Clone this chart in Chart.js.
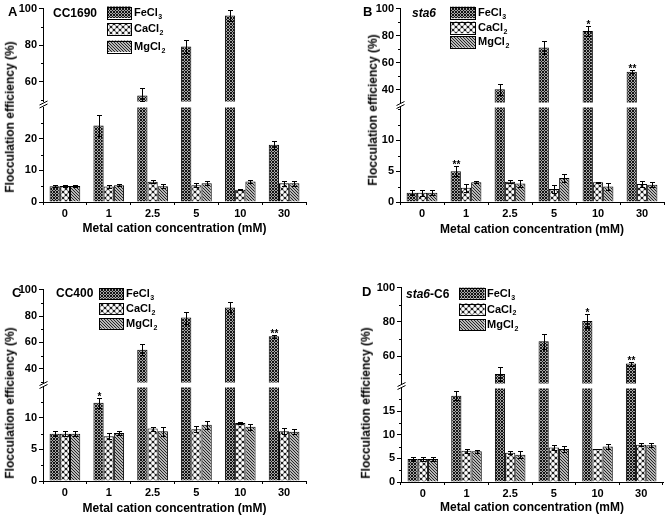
<!DOCTYPE html>
<html><head><meta charset="utf-8">
<script src="https://cdn.jsdelivr.net/npm/chart.js@4.4.1/dist/chart.umd.min.js"></script>
<style>
html,body{margin:0;padding:0;background:#fff;}
body{width:666px;height:521px;overflow:hidden;position:relative;font-family:"Liberation Sans",Arial,sans-serif;}
canvas{position:absolute;}
.lbl{position:absolute;font-weight:bold;white-space:nowrap;color:#000;line-height:1.2;}
.rot{position:absolute;font-weight:bold;white-space:nowrap;color:#000;line-height:1.2;transform:translate(-50%,-50%) rotate(-90deg);}
</style></head><body>
<script>
// ---------- DATA ----------
const categories = ['0', '1', '2.5', '5', '10', '30'];
const seriesBase = ['FeCl', 'CaCl', 'MgCl'];
const seriesSub  = ['3', '2', '2'];
const yTitle = 'Flocculation efficiency (%)';
const xTitle = 'Metal cation concentration (mM)';

// Panel A: CC1690
const A_fe     = [5.0, 24.2, 52.4, 79.3, 96.2, 18.1];
const A_fe_err = [0.4, 3.2, 4.4, 3.7, 3.1, 1.3];
const A_ca     = [5.1, 4.9, 6.4, 5.3, 3.9, 5.9];
const A_ca_err = [0.4, 0.5, 0.5, 0.7, 0.2, 0.8];
const A_mg     = [5.1, 5.3, 5.0, 5.9, 6.5, 5.9];
const A_mg_err = [0.4, 0.3, 0.7, 0.6, 0.6, 0.8];
const A_sig    = ['', '', '', '', '', ''];
const A_upperTicks = [60, 80, 100];
const A_lowerTicks = [0, 10, 20];

// Panel B: sta6
const B_fe     = [1.5, 5.0, 40.2, 71.2, 83.4, 53.3];
const B_fe_err = [0.4, 0.8, 4.2, 4.5, 3.6, 1.2];
const B_ca     = [1.5, 2.3, 3.3, 2.1, 3.2, 2.9];
const B_ca_err = [0.5, 0.6, 0.3, 0.6, 0.1, 0.5];
const B_mg     = [1.5, 3.2, 3.0, 3.9, 2.5, 2.8];
const B_mg_err = [0.4, 0.2, 0.6, 0.7, 0.5, 0.4];
const B_sig    = ['', '**', '', '', '*', '**'];
const B_upperTicks = [40, 60, 80, 100];
const B_lowerTicks = [0, 5, 10];

// Panel C: CC400
const C_fe     = [7.5, 12.4, 54.5, 78.8, 86.5, 64.6];
const C_fe_err = [0.4, 0.8, 4.0, 4.5, 3.8, 1.2];
const C_ca     = [7.5, 7.1, 8.3, 8.2, 9.2, 7.9];
const C_ca_err = [0.4, 0.5, 0.3, 0.5, 0.15, 0.5];
const C_mg     = [7.5, 7.6, 7.9, 8.9, 8.6, 7.8];
const C_mg_err = [0.4, 0.25, 0.7, 0.6, 0.5, 0.4];
const C_sig    = ['', '*', '', '', '', '**'];
const C_upperTicks = [40, 60, 80, 100];
const C_lowerTicks = [0, 5, 10];

// Panel D: sta6-C6
const D_fe     = [4.9, 18.3, 49.7, 68.8, 80.6, 55.8];
const D_fe_err = [0.5, 0.9, 3.9, 4.3, 4.0, 1.1];
const D_ca     = [4.9, 6.6, 6.2, 7.3, 7.0, 7.9];
const D_ca_err = [0.5, 0.5, 0.3, 0.5, 0.1, 0.3];
const D_mg     = [4.9, 6.5, 5.8, 7.0, 7.5, 7.8];
const D_mg_err = [0.4, 0.3, 0.8, 0.6, 0.5, 0.4];
const D_sig    = ['', '', '', '', '*', '**'];
const D_upperTicks = [60, 80, 100];
const D_lowerTicks = [0, 5, 10, 15];

// ---------- LAYOUT ----------
const panels = [
  {letter:'A', title:'CC1690',
   fe:A_fe, feErr:A_fe_err, ca:A_ca, caErr:A_ca_err, mg:A_mg, mgErr:A_mg_err, sig:A_sig, upT:A_upperTicks, lowT:A_lowerTicks,
   g:{x0:43,x1:306,uTop:8,uBot:102,uMin:49.2,uMax:100,uMinor:10,lTop:107,lBot:202,lMin:0,lMax:29.9,lMinor:5,xTitleY:228.5,
      leg:{x:107,ys:[6.5,23,40.5],w:24,h:11.5,tx:134}, letterPos:[8,12], titlePos:[53,13], yTitlePos:[10,117]}},
  {letter:'B', title:'<i>sta6</i>',
   fe:B_fe, feErr:B_fe_err, ca:B_ca, caErr:B_ca_err, mg:B_mg, mgErr:B_mg_err, sig:B_sig, upT:B_upperTicks, lowT:B_lowerTicks,
   g:{x0:400,x1:664,uTop:8,uBot:103,uMin:30.5,uMax:100,uMinor:10,lTop:107,lBot:202,lMin:0,lMax:15.3,lMinor:2.5,xTitleY:229.5,
      leg:{x:450,ys:[6.7,21.7,36.2],w:25,h:11.5,tx:478}, letterPos:[363,12], titlePos:[412,13], yTitlePos:[373,110]}},
  {letter:'C', title:'CC400',
   fe:C_fe, feErr:C_fe_err, ca:C_ca, caErr:C_ca_err, mg:C_mg, mgErr:C_mg_err, sig:C_sig, upT:C_upperTicks, lowT:C_lowerTicks,
   g:{x0:43,x1:306,uTop:289,uBot:383,uMin:29.7,uMax:100,uMinor:10,lTop:387,lBot:481,lMin:0,lMax:14.8,lMinor:2.5,xTitleY:508.3,
      leg:{x:99,ys:[288.3,303.3,318.3],w:24,h:10.5,tx:126}, letterPos:[12,293], titlePos:[56,293], yTitlePos:[10,403]}},
  {letter:'D', title:'<i>sta6</i>-C6',
   fe:D_fe, feErr:D_fe_err, ca:D_ca, caErr:D_ca_err, mg:D_mg, mgErr:D_mg_err, sig:D_sig, upT:D_upperTicks, lowT:D_lowerTicks,
   g:{x0:401,x1:663,uTop:287,uBot:384,uMin:44.3,uMax:100,uMinor:10,lTop:388,lBot:482,lMin:0,lMax:19.8,lMinor:2.5,xTitleY:508,
      leg:{x:459,ys:[287.7,303.5,319.3],w:25.5,h:11,tx:487}, letterPos:[362,292], titlePos:[406,294], yTitlePos:[366,403]}}
];

const YW = 40, PT = 8, PB = 8, PR = 3;
const FONT = '"Liberation Sans", Arial, sans-serif';
Chart.defaults.font.family = FONT;
Chart.defaults.font.weight = 'bold';
Chart.defaults.color = '#000';

// ---------- PATTERNS ----------
function tile(w, h, draw){
  const c = document.createElement('canvas'); c.width = w; c.height = h;
  const x = c.getContext('2d'); draw(x);
  return document.createElement('canvas').getContext('2d').createPattern(c, 'repeat');
}
const patFe = tile(3, 3, x => {
  x.fillStyle = '#a8a8a8'; x.fillRect(0,0,3,3);
  x.fillStyle = '#141414';
  [[0,0],[1,1],[2,2],[2,0],[0,2]].forEach(p => x.fillRect(p[0],p[1],1,1));
});
const patCa = tile(6, 6, x => {
  x.fillStyle = '#202020'; x.fillRect(0,0,6,6);
  x.fillStyle = '#ffffff';
  [[0,0],[6,0],[0,6],[6,6],[3,3]].forEach(p => { x.beginPath(); x.arc(p[0],p[1],1.9,0,Math.PI*2); x.fill(); });
});
const patMg = tile(3, 3, x => {
  x.fillStyle = '#b8b8b8'; x.fillRect(0,0,3,3);
  x.fillStyle = '#262626';
  [[0,0],[1,1],[2,2]].forEach(p => x.fillRect(p[0],p[1],1,1));
});
const patterns = [patFe, patCa, patMg];

// ---------- PLUGINS ----------
function errPlugin(errs, sig){
  return {id:'errbars', afterDatasetsDraw(chart){
    const ctx = chart.ctx, y = chart.scales.y;
    ctx.save(); ctx.strokeStyle = '#000'; ctx.lineWidth = 1;
    chart.data.datasets.forEach((ds, i) => {
      const meta = chart.getDatasetMeta(i);
      ds.data.forEach((v, j) => {
        if (v == null || v > y.max || v < y.min) return;
        const e = errs[i][j];
        const x = Math.round(meta.data[j].x) + 0.5;
        const t = Math.round(y.getPixelForValue(v + e)) + 0.5;
        const b = Math.round(y.getPixelForValue(Math.max(v - e, y.min))) + 0.5;
        ctx.beginPath();
        ctx.moveTo(x, b); ctx.lineTo(x, t);
        ctx.moveTo(x - 2.5, t); ctx.lineTo(x + 2.5, t);
        ctx.moveTo(x - 2.5, b); ctx.lineTo(x + 2.5, b);
        ctx.stroke();
        if (i === 0 && sig[j]) {
          ctx.fillStyle = '#000';
          ctx.font = 'bold 10px ' + FONT;
          ctx.textAlign = 'center'; ctx.textBaseline = 'alphabetic';
          ctx.fillText(sig[j], x, t + 1.5);
        }
      });
    });
    ctx.restore();
  }};
}
function minorPlugin(step, majors){
  return {id:'minor', afterDraw(chart){
    const ctx = chart.ctx, y = chart.scales.y, a = chart.chartArea;
    ctx.save(); ctx.strokeStyle = '#000'; ctx.lineWidth = 1;
    for (let v = Math.ceil(y.min / step) * step; v <= y.max + 1e-9; v += step) {
      if (majors.some(m => Math.abs(m - v) < 1e-6)) continue;
      const p = Math.round(y.getPixelForValue(v)) + 0.5;
      ctx.beginPath(); ctx.moveTo(a.left - 2, p); ctx.lineTo(a.left, p); ctx.stroke();
    }
    ctx.restore();
  }};
}
function legendPlugin(leg, offX, offY){
  return {id:'legendBox', afterDraw(chart){
    const ctx = chart.ctx;
    ctx.save();
    seriesBase.forEach((name, i) => {
      const x = leg.x - offX, y = leg.ys[i] - offY;
      ctx.fillStyle = patterns[i];
      ctx.fillRect(x, y, leg.w, leg.h);
      ctx.strokeStyle = '#000'; ctx.lineWidth = 1;
      ctx.strokeRect(Math.round(x) + 0.5, Math.round(y) + 0.5, Math.round(leg.w), Math.round(leg.h));
      ctx.fillStyle = '#000';
      ctx.textBaseline = 'middle'; ctx.textAlign = 'left';
      ctx.font = 'bold 11px ' + FONT;
      const cy = y + leg.h / 2 + 0.5;
      ctx.fillText(name, leg.tx - offX, cy);
      const w = ctx.measureText(name).width;
      ctx.font = 'bold 7px ' + FONT;
      ctx.fillText(seriesSub[i], leg.tx - offX + w + 0.5, cy + 4);
    });
    ctx.restore();
  }};
}
function breakPlugin(gapY){
  return {id:'breakmark', afterDraw(chart){
    const ctx = chart.ctx, L = chart.chartArea.left + 0.5;
    ctx.save(); ctx.strokeStyle = '#000'; ctx.lineWidth = 1;
    ctx.beginPath();
    ctx.moveTo(L - 4, gapY + 0.5); ctx.lineTo(L + 4, gapY - 3.5);
    ctx.moveTo(L - 4, gapY + 3.5); ctx.lineTo(L + 4, gapY - 0.5);
    ctx.stroke(); ctx.restore();
  }};
}

function makeCanvas(left, top, w, h){
  const c = document.createElement('canvas');
  c.width = w; c.height = h;
  c.style.left = left + 'px'; c.style.top = top + 'px';
  c.style.width = w + 'px'; c.style.height = h + 'px';
  document.body.appendChild(c);
  return c;
}
function addText(html, x, cy, fs, cls){
  const d = document.createElement('div');
  d.className = cls || 'lbl';
  d.innerHTML = html;
  d.style.fontSize = fs + 'px';
  if (cls === 'rot') { d.style.left = x + 'px'; d.style.top = cy + 'px'; }
  else { d.style.left = x + 'px'; d.style.top = (cy - 0.59 * fs) + 'px'; }
  document.body.appendChild(d);
}

function yScale(min, max, ticks){
  return {
    min, max,
    afterFit: s => { s.width = YW; },
    afterBuildTicks: s => { s.ticks = ticks.map(v => ({value: v})); },
    grid: {drawOnChartArea: false, color: '#000', tickLength: 4, tickWidth: 1},
    border: {display: true, color: '#000', width: 1},
    ticks: {padding: 2, color: '#000', font: {size: 11, weight: 'bold'}}
  };
}

panels.forEach(p => {
  const g = p.g;
  const W = YW + (g.x1 - g.x0) + PR;
  const left = g.x0 - YW;
  const vals = [p.fe, p.ca, p.mg];
  const errs = [p.feErr, p.caErr, p.mgErr];
  const dsCommon = {borderColor: '#000', borderWidth: 1, borderSkipped: 'start', clip: 0,
                    categoryPercentage: 0.7, barPercentage: 1};

  // upper segment
  const uTopC = g.uTop - PT;
  const cu = makeCanvas(left, uTopC, W, (g.uBot - g.uTop) + PT + PB);
  new Chart(cu, {
    type: 'bar',
    data: {labels: categories, datasets: vals.map((arr, i) => Object.assign({
      label: seriesBase[i] + seriesSub[i],
      data: arr.map(v => v >= g.uMin ? v : null),
      backgroundColor: patterns[i]}, dsCommon))},
    options: {
      responsive: false, animation: false, events: [],
      layout: {padding: {top: PT, bottom: PB, left: 0, right: PR}},
      plugins: {legend: {display: false}, tooltip: {enabled: false}},
      scales: {x: {display: false, offset: true}, y: yScale(g.uMin, g.uMax, p.upT)}
    },
    plugins: [errPlugin(errs, p.sig), minorPlugin(g.uMinor, p.upT), legendPlugin(g.leg, left, uTopC)]
  });

  // lower segment
  const XH = Math.round(g.xTitleY + 7.2 - g.lBot);
  const lTopC = g.lTop - PT;
  const cl = makeCanvas(left, lTopC, W, (g.lBot - g.lTop) + PT + XH);
  new Chart(cl, {
    type: 'bar',
    data: {labels: categories, datasets: vals.map((arr, i) => Object.assign({
      label: seriesBase[i] + seriesSub[i],
      data: arr.slice(),
      backgroundColor: patterns[i]}, dsCommon))},
    options: {
      responsive: false, animation: false, events: [],
      layout: {padding: {top: PT, bottom: 0, left: 0, right: PR}},
      plugins: {legend: {display: false}, tooltip: {enabled: false}},
      scales: {
        x: {
          offset: true,
          afterFit: s => { s.height = XH; },
          grid: {offset: true, drawOnChartArea: false, color: '#000', tickLength: 3},
          border: {display: true, color: '#000', width: 1},
          ticks: {padding: 2, color: '#000', font: {size: 11, weight: 'bold'}, maxRotation: 0},
          title: {display: true, text: xTitle, color: '#000', font: {size: 12, weight: 'bold'}, padding: {top: 0, bottom: 0}}
        },
        y: yScale(g.lMin, g.lMax, p.lowT)
      }
    },
    plugins: [errPlugin(errs, p.sig), minorPlugin(g.lMinor, p.lowT), breakPlugin((g.uBot + g.lTop) / 2 - lTopC)]
  });

  addText(p.letter, g.letterPos[0], g.letterPos[1], 13);
  addText(p.title, g.titlePos[0], g.titlePos[1], 12);
  addText(yTitle, g.yTitlePos[0], g.yTitlePos[1], 12, 'rot');
});
</script>
</body></html>
